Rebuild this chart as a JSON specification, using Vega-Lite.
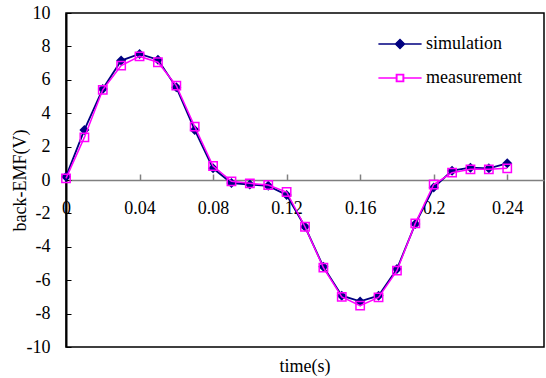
{
  "$schema": "https://vega.github.io/schema/vega-lite/v6.json",
  "width": 478,
  "height": 334,
  "autosize": {"type": "none"},
  "padding": {"left": 66, "top": 13, "right": 2, "bottom": 31},
  "background": "white",
  "config": {
    "font": "Liberation Serif",
    "axis": {"labelFont": "Liberation Serif", "titleFont": "Liberation Serif"},
    "legend": {"labelFont": "Liberation Serif"},
    "view": {"stroke": "#000000", "strokeWidth": 1.5}
  },
  "title": {
    "text": "time(s)",
    "orient": "bottom",
    "anchor": "middle",
    "frame": "group",
    "font": "Liberation Serif",
    "fontSize": 18,
    "fontWeight": "normal",
    "color": "#000000",
    "offset": 2
  },
  "data": {
    "values": [
      {"t": 0.00, "series": "simulation", "v": 0.2},
      {"t": 0.01, "series": "simulation", "v": 3.0},
      {"t": 0.02, "series": "simulation", "v": 5.45},
      {"t": 0.03, "series": "simulation", "v": 7.15},
      {"t": 0.04, "series": "simulation", "v": 7.55},
      {"t": 0.05, "series": "simulation", "v": 7.2},
      {"t": 0.06, "series": "simulation", "v": 5.55},
      {"t": 0.07, "series": "simulation", "v": 3.0},
      {"t": 0.08, "series": "simulation", "v": 0.7},
      {"t": 0.09, "series": "simulation", "v": -0.18},
      {"t": 0.10, "series": "simulation", "v": -0.27},
      {"t": 0.11, "series": "simulation", "v": -0.35},
      {"t": 0.12, "series": "simulation", "v": -0.9},
      {"t": 0.13, "series": "simulation", "v": -2.8},
      {"t": 0.14, "series": "simulation", "v": -5.2},
      {"t": 0.15, "series": "simulation", "v": -6.93},
      {"t": 0.16, "series": "simulation", "v": -7.27},
      {"t": 0.17, "series": "simulation", "v": -6.93},
      {"t": 0.18, "series": "simulation", "v": -5.33},
      {"t": 0.19, "series": "simulation", "v": -2.63},
      {"t": 0.20, "series": "simulation", "v": -0.45},
      {"t": 0.21, "series": "simulation", "v": 0.56},
      {"t": 0.22, "series": "simulation", "v": 0.74},
      {"t": 0.23, "series": "simulation", "v": 0.7},
      {"t": 0.24, "series": "simulation", "v": 1.0},
      {"t": 0.00, "series": "measurement", "v": 0.1},
      {"t": 0.01, "series": "measurement", "v": 2.55},
      {"t": 0.02, "series": "measurement", "v": 5.4},
      {"t": 0.03, "series": "measurement", "v": 6.85},
      {"t": 0.04, "series": "measurement", "v": 7.4},
      {"t": 0.05, "series": "measurement", "v": 7.05},
      {"t": 0.06, "series": "measurement", "v": 5.65},
      {"t": 0.07, "series": "measurement", "v": 3.2},
      {"t": 0.08, "series": "measurement", "v": 0.84},
      {"t": 0.09, "series": "measurement", "v": -0.08},
      {"t": 0.10, "series": "measurement", "v": -0.2},
      {"t": 0.11, "series": "measurement", "v": -0.3},
      {"t": 0.12, "series": "measurement", "v": -0.72},
      {"t": 0.13, "series": "measurement", "v": -2.8},
      {"t": 0.14, "series": "measurement", "v": -5.25},
      {"t": 0.15, "series": "measurement", "v": -7.0},
      {"t": 0.16, "series": "measurement", "v": -7.52},
      {"t": 0.17, "series": "measurement", "v": -7.03},
      {"t": 0.18, "series": "measurement", "v": -5.43},
      {"t": 0.19, "series": "measurement", "v": -2.6},
      {"t": 0.20, "series": "measurement", "v": -0.27},
      {"t": 0.21, "series": "measurement", "v": 0.44},
      {"t": 0.22, "series": "measurement", "v": 0.64},
      {"t": 0.23, "series": "measurement", "v": 0.64},
      {"t": 0.24, "series": "measurement", "v": 0.7}
    ]
  },
  "encoding": {
    "x": {
      "field": "t",
      "type": "quantitative",
      "scale": {"domain": [0, 0.26], "nice": false, "zero": false},
      "axis": {
        "orient": "bottom",
        "offset": {"expr": "scale('y', 0) - height"},
        "values": [0, 0.04, 0.08, 0.12, 0.16, 0.2, 0.24],
        "format": "~g",
        "title": null,
        "grid": false,
        "labelFlush": false,
        "labelOverlap": false,
        "labelFontSize": 18,
        "labelColor": "#000000",
        "labelPadding": 25,
        "tickSize": -6,
        "tickColor": "#808080",
        "tickWidth": 1.5,
        "domainColor": "#808080",
        "domainWidth": 1.5
      }
    },
    "y": {
      "field": "v",
      "type": "quantitative",
      "scale": {"domain": [-10, 10], "nice": false},
      "axis": {
        "values": [-10, -8, -6, -4, -2, 0, 2, 4, 6, 8, 10],
        "labelExpr": "'' + datum.value",
        "title": "back-EMF(V)",
        "titleFontSize": 18,
        "titleFontWeight": "normal",
        "titleColor": "#000000",
        "titlePadding": -3,
        "grid": false,
        "labelFontSize": 18,
        "labelColor": "#000000",
        "labelPadding": 21,
        "tickSize": -5,
        "tickColor": "#000000",
        "tickWidth": 1,
        "domainColor": "#000000",
        "domainWidth": 2
      }
    },
    "color": {
      "field": "series",
      "type": "nominal",
      "scale": {"domain": ["simulation", "measurement"], "range": ["#000080", "#FF00FF"]},
      "legend": {
        "title": null,
        "orient": "none",
        "legendX": 325,
        "legendY": 22,
        "padding": 0,
        "labelFontSize": 18,
        "labelColor": "#000000",
        "labelOffset": 17,
        "rowPadding": 16,
        "symbolSize": 81,
        "symbolStrokeWidth": 1.5,
        "encode": {
          "symbols": {
            "update": {
              "shape": {"signal": "datum.value === 'simulation' ? 'M-4.8,0H4.8M0,-1L1,0L0,1L-1,0Z' : 'M-4.8,0H-0.8M0.8,0H4.8M-0.8,-0.8H0.8V0.8H-0.8ZM-0.7,-0.7V0.7H0.7V-0.7Z'"},
              "strokeWidth": {"value": 1.5}
            }
          }
        }
      }
    }
  },
  "layer": [
    {
      "transform": [{"filter": "datum.series === 'simulation'"}],
      "mark": {"type": "line", "strokeWidth": 1.8}
    },
    {
      "transform": [{"filter": "datum.series === 'simulation'"}],
      "mark": {"type": "point", "shape": "diamond", "filled": true, "size": 100, "opacity": 1}
    },
    {
      "transform": [{"filter": "datum.series === 'measurement'"}],
      "mark": {"type": "line", "strokeWidth": 1.5}
    },
    {
      "transform": [{"filter": "datum.series === 'measurement'"}],
      "mark": {"type": "point", "shape": "square", "filled": false, "size": 70, "strokeWidth": 1.5, "opacity": 1}
    }
  ]
}
